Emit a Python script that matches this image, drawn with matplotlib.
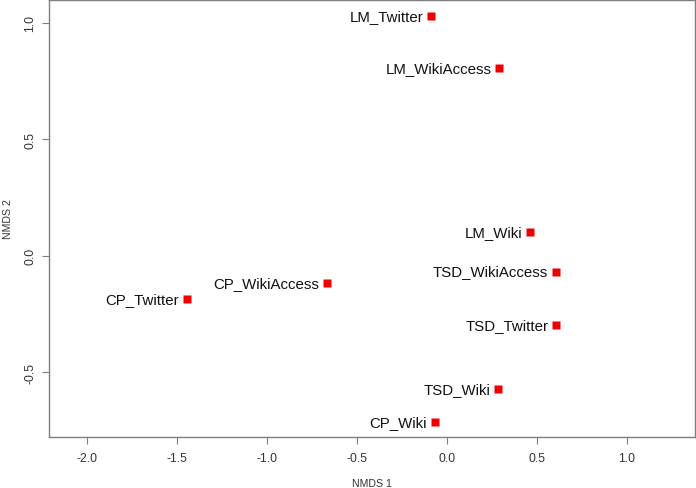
import matplotlib
matplotlib.use('Agg')
import matplotlib.pyplot as plt

plt.rcParams['font.family'] = ['Liberation Sans', 'DejaVu Sans']

# NMDS coordinates
labels = ['LM_Twitter', 'LM_WikiAccess', 'LM_Wiki', 'TSD_WikiAccess', 'TSD_Twitter',
          'TSD_Wiki', 'CP_Wiki', 'CP_WikiAccess', 'CP_Twitter']
nmds1 = [-0.090, 0.290, 0.462, 0.605, 0.605, 0.285, -0.068, -0.667, -1.445]
nmds2 = [1.029, 0.806, 0.102, -0.068, -0.297, -0.572, -0.712, -0.116, -0.185]

xticks = [-2.0, -1.5, -1.0, -0.5, 0.0, 0.5, 1.0]
yticks = [-0.5, 0.0, 0.5, 1.0]

fig = plt.figure(figsize=(6.96, 4.89), dpi=100)
ax = fig.add_axes([0.070, 0.1043, 0.928, 0.8937])

ax.plot(nmds1, nmds2, 's', color='#ee0000', ms=5.5, mec='none')
for lab, x, y in zip(labels, nmds1, nmds2):
    ax.annotate(lab, (x, y), xytext=(-5.5, 0), textcoords='offset points',
                ha='right', va='center', fontsize=10.8, color='#111111')

ax.set_xlim(-2.213, 1.376)
ax.set_ylim(-0.778, 1.097)
ax.set_xticks(xticks)
ax.set_xticklabels(['%.1f' % t for t in xticks])
ax.set_yticks(yticks)
ax.set_yticklabels(['%.1f' % t for t in yticks], rotation=90, va='center')

for s in ax.spines.values():
    s.set_color('#7f7f7f')
    s.set_linewidth(1.0)
ax.tick_params(colors='#7f7f7f', labelcolor='#333333', labelsize=8.8, length=5)
ax.tick_params(axis='x', pad=6)
ax.tick_params(axis='y', pad=4)

ax.set_xlabel('NMDS 1', fontsize=7.6, color='#333333', labelpad=10)
ax.set_ylabel('NMDS 2', fontsize=7.6, color='#333333', labelpad=8)

fig.savefig('out.png', dpi=100)
